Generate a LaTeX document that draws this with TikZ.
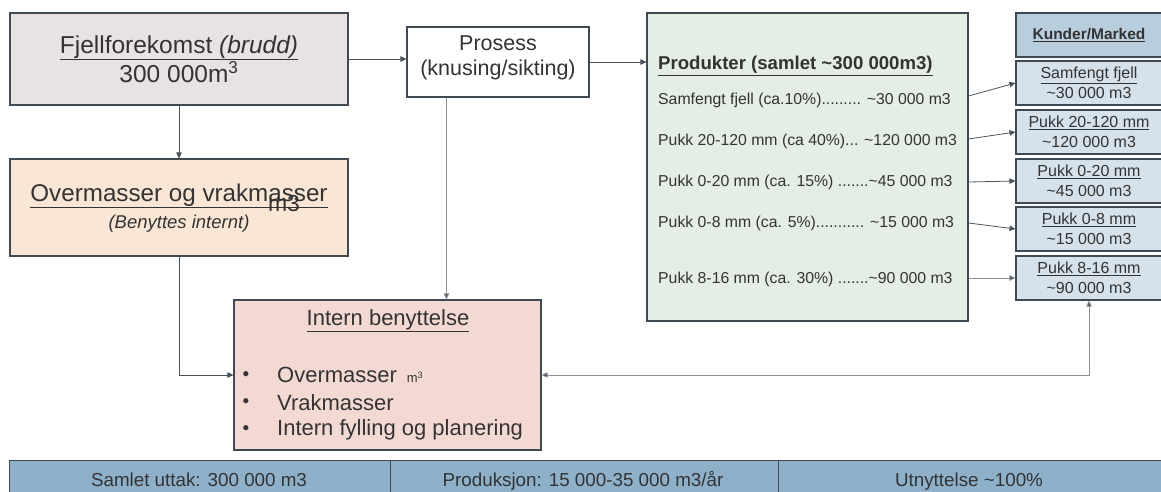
\documentclass[tikz,border=0pt]{standalone}
\usepackage{fontspec}
\setmainfont{Liberation Sans}
\usetikzlibrary{arrows.meta,calc}
\definecolor{bord}{HTML}{3F4A55}
\definecolor{txt}{HTML}{333333}
\definecolor{ln}{HTML}{4A525A}
\definecolor{lnl}{HTML}{8A9096}
\definecolor{fjc}{HTML}{E8E2E2}
\definecolor{ovc}{HTML}{FAE6D4}
\definecolor{pdc}{HTML}{E4EEE4}
\definecolor{ibc}{HTML}{F4D9D2}
\definecolor{kmc}{HTML}{B9CEDC}
\definecolor{cuc}{HTML}{D6E2EB}
\definecolor{barc}{HTML}{8EB1C9}
\tikzset{
  box/.style={draw=bord, line width=1.1pt, rectangle, inner sep=0pt, text=txt},
  lbl/.style={inner sep=0pt, text=txt, font=\fontsize{15.8}{18}\selectfont},
  arr/.style={draw=ln, line width=0.8pt, -{Triangle[length=6pt,width=5.5pt]}},
  arrl/.style={draw=lnl, line width=0.9pt, -{Triangle[length=6pt,width=5.5pt,fill=ln]}},
  cust/.style={box, fill=cuc, minimum width=146pt, minimum height=44pt, align=center, font=\fontsize{16}{20}\selectfont},
  cell/.style={draw=bord, line width=1pt, fill=barc, minimum height=40pt, inner sep=0pt, anchor=north west},
  big/.style={inner sep=0pt, text=txt, font=\fontsize{22}{26}\selectfont},
  bartxt/.style={inner sep=0pt, text=txt, anchor=base, font=\fontsize{18.8}{20}\selectfont},
}
\begin{document}
\begin{tikzpicture}[x=1pt,y=-1pt]
\useasboundingbox (0,0) rectangle (1161,492);
% left column
\node[box, fill=fjc, minimum width=338pt, minimum height=92pt, align=center,
      font=\fontsize{24.5}{27}\selectfont] (fj) at (179,59)
  {\underline{Fjellforekomst \textit{(brudd)}}\\300 000m\textsuperscript{3}};
\node[box, fill=ovc, minimum width=338pt, minimum height=97pt] (ov) at (179,207.5) {};
\node[inner sep=0pt, text=txt, font=\fontsize{24.2}{26}\selectfont] (ovt) at (179,196) {\underline{Overmasser og vrakmasser}};
\node[inner sep=0pt, text=txt, font=\fontsize{23}{26}\selectfont] (ovm) at (284,204) {m3};
\node[inner sep=0pt, text=txt, font=\fontsize{18.5}{20}\selectfont\itshape] (ovs) at (179,224) {(Benyttes internt)};
% process
\node[box, fill=white, minimum width=182pt, minimum height=70pt] (pr) at (498,62) {};
\node[inner sep=0pt, text=txt, align=center, font=\fontsize{21.5}{25}\selectfont] (prt) at (498,58) {Prosess\\(knusing/sikting)};
% products
\node[box, fill=pdc, minimum width=321pt, minimum height=308pt] (pd) at (807.5,167) {};
\node[lbl, anchor=west, font=\fontsize{18.6}{20}\selectfont\bfseries] (pdt) at (658,66) {\underline{Produkter (samlet \textasciitilde300 000m3)}};
\node[lbl, anchor=west] (p1) at (658,100) {Samfengt fjell (ca.10\%)......... \textasciitilde30 000 m3};
\node[lbl, anchor=west] (p2) at (658,141) {Pukk 20-120 mm (ca 40\%)... \textasciitilde120 000 m3};
\node[lbl, anchor=west] (p3) at (658,182) {Pukk 0-20 mm (ca. 15\%) .......\textasciitilde45 000 m3};
\node[lbl, anchor=west] (p4) at (658,223) {Pukk 0-8 mm (ca. 5\%)........... \textasciitilde15 000 m3};
\node[lbl, anchor=west] (p5) at (658,279) {Pukk 8-16 mm (ca. 30\%) .......\textasciitilde90 000 m3};
% customers
\node[box, fill=kmc, minimum width=146pt, minimum height=44pt, font=\fontsize{15.5}{18}\selectfont\bfseries] (km) at (1089,35) {\underline{Kunder/Marked}};
\node[cust] (c1) at (1089,83) {\underline{Samfengt fjell}\\\textasciitilde30 000 m3};
\node[cust] (c2) at (1089,132) {\underline{Pukk 20-120 mm}\\\textasciitilde120 000 m3};
\node[cust] (c3) at (1089,181) {\underline{Pukk 0-20 mm}\\\textasciitilde45 000 m3};
\node[cust] (c4) at (1089,229) {\underline{Pukk 0-8 mm}\\\textasciitilde15 000 m3};
\node[cust] (c5) at (1089,278) {\underline{Pukk 8-16 mm}\\\textasciitilde90 000 m3};
% internal use
\node[box, fill=ibc, minimum width=307pt, minimum height=150pt] (ib) at (387.5,375) {};
\node[big] (ibt) at (388,321) {\underline{Intern benyttelse}};
\node[big, font=\fontsize{19}{20}\selectfont] (b1) at (246,376) {\textbullet};
\node[big, font=\fontsize{19}{20}\selectfont] (b2) at (246,403) {\textbullet};
\node[big, font=\fontsize{19}{20}\selectfont] (b3) at (246,430) {\textbullet};
\node[big, anchor=west] (i1) at (277,375) {Overmasser \,{\fontsize{13}{14}\selectfont m\textsuperscript{3}}};
\node[big, anchor=west] (i2) at (277,403) {Vrakmasser};
\node[big, anchor=west] (i3) at (277,430) {Intern fylling og planering};
% bottom bar
\node[cell, minimum width=381pt] (s1) at (9,460) {};
\node[cell, minimum width=388pt] (s2) at (390,460) {};
\node[cell, minimum width=390pt] (s3) at (778,460) {};
\node[bartxt] (s1t) at (199,486) {Samlet uttak: 300 000 m3};
\node[bartxt] (s2t) at (583,486) {Produksjon: 15 000-35 000 m3/år};
\node[bartxt] (s3t) at (969,486) {Utnyttelse \textasciitilde100\%};
% connectors
\draw[arr] (fj.east) -- (fj.east -| pr.west);
\draw[arr] (pr.east) -- (pr.east -| pd.west);
\draw[arr] (fj.south) -- (ov.north);
\draw[arr] (ov.south) |- (ib.west);
\coordinate (prd) at ([xshift=40pt]pr.south west);
\draw[arrl] (prd) -- (prd |- ib.north);
\draw[arr] (pd.east |- 0,96) -- (c1.west);
\draw[arr] (pd.east |- 0,139) -- (c2.west);
\draw[arr] (pd.east |- p3) -- (c3.west);
\draw[arr] (pd.east |- p4) -- (c4.west);
\draw[arrl] (pd.east |- c5.west) -- (c5.west);
\draw[draw=lnl, line width=0.9pt, {Triangle[length=6pt,width=5.5pt,fill=ln]}-{Triangle[length=6pt,width=5.5pt,fill=ln]}] (ib.east) -| (c5.south);
\end{tikzpicture}
\end{document}
